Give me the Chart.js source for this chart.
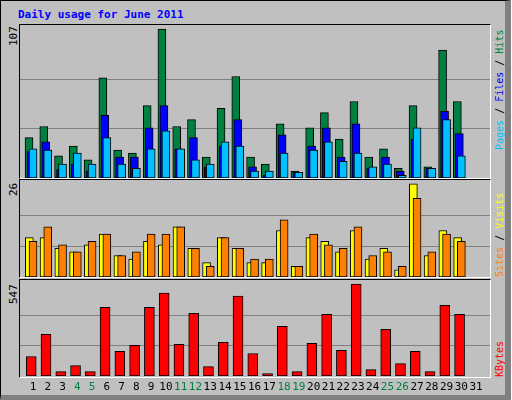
<!DOCTYPE html>
<html><head><meta charset="utf-8">
<script src="https://cdn.jsdelivr.net/npm/chart.js@4/dist/chart.umd.min.js"></script>
<style>
body{margin:0;width:512px;height:400px;overflow:hidden;background:#fff;font-family:"DejaVu Sans Mono",monospace}
#frame{position:absolute;left:0;top:0;width:504px;height:394px;background:#c0c0c0;border:1px solid #000;border-right:6px solid #808080;border-bottom:5px solid #808080}
.panel{position:absolute;left:19px;width:470px;border-top:1px solid #000;border-left:1px solid #000;border-right:1px solid #fff;border-bottom:1px solid #fff}
.lbl{position:absolute;font-size:11px;transform-origin:0 0;transform:rotate(-90deg);white-space:nowrap}
.rl{font-size:10px}
canvas{display:block}
</style></head><body>
<div id="frame"></div>
<div style="position:absolute;left:18px;top:8px;color:#0000ff;font-weight:bold;font-size:11px">Daily usage for June 2011</div>
<div class="panel" style="top:24px;height:153px"><canvas id="c1" width="470" height="153"></canvas></div>
<div class="panel" style="top:179px;height:97px"><canvas id="c2" width="470" height="97"></canvas></div>
<div class="panel" style="top:279px;height:97px"></div>
<canvas id="c3" width="470" height="120" style="position:absolute;left:20px;top:280px"></canvas>
<div class="lbl" style="left:7px;top:46px">107</div>
<div class="lbl" style="left:7px;top:196px">26</div>
<div class="lbl" style="left:7px;top:304px">547</div>
<div class="lbl rl" style="left:494px;top:150px"><span style="color:#00c0ff">Pages</span> / <span style="color:#0000ff">Files</span> / <span style="color:#008040">Hits</span></div>
<div class="lbl rl" style="left:494px;top:277px"><span style="color:#ff8000">Sites</span> / <span style="color:#ffff00">Visits</span></div>
<div class="lbl rl" style="left:494px;top:377px"><span style="color:#ff0000">KBytes</span></div>
<script>
const days=[1,2,3,4,5,6,7,8,9,10,11,12,13,14,15,16,17,18,19,20,21,22,23,24,25,26,27,28,29,30,31];
const weekend=[4,5,11,12,18,19,25,26];
const hits=[29,37,16,23,13,72,20,18,52,107,37,42,15,50,73,15,10,39,5,36,47,28,55,15,21,7,52,8,92,55,0];
const files=[19,26,6,10,5,45,15,15,36,52,21,29,8,23,42,8,2,31,4,23,36,15,39,7,15,5,28,7,48,32,0];
const pages=[21,20,10,18,10,29,10,7,21,34,21,13,10,26,23,5,5,18,4,20,26,12,18,8,10,2,36,7,42,16,0];
const visits=[11,11,8,7,9,12,6,5,10,9,14,8,4,11,8,4,4,13,3,11,10,7,13,5,8,2,26,6,13,11,0];
const sites=[10,14,9,7,10,12,6,7,12,12,14,8,3,11,8,5,5,16,3,12,9,8,14,6,7,3,22,7,12,10,0];
const kbytes=[116,248,26,62,26,409,146,182,409,493,188,373,56,200,475,134,14,295,26,194,367,152,547,38,277,74,146,26,421,367,0];
const maxes={hits:107,visits:26,kbytes:547};

function ds(vals,off,color,w,order){return{data:days.map((d,i)=>({x:d+off,y:vals[i]})),backgroundColor:color,borderColor:'#000',borderWidth:1,barThickness:w,borderSkipped:false,grouped:false,order}}
const grid={id:'grid',beforeDatasetsDraw(ch,a,o){const y=ch.scales.y,c=ch.ctx;c.save();c.strokeStyle='#808080';c.lineWidth=1;[o.m/3,2*o.m/3].forEach(v=>{const p=Math.round(y.getPixelForValue(v))+0.5;c.beginPath();c.moveTo(0,p);c.lineTo(ch.width,p);c.stroke()});c.restore()}};
const dayLbl={id:'dayLbl',afterDraw(ch){const x=ch.scales.x,c=ch.ctx;c.save();c.font='11px "DejaVu Sans Mono"';c.textAlign='center';c.textBaseline='top';days.forEach(d=>{c.fillStyle=weekend.includes(d)?'#008040':'#000';c.fillText(String(d),x.getPixelForValue(d),102)});c.restore()}};
function make(id,datasets,ymax,m,pb){return new Chart(document.getElementById(id),{type:'bar',data:{datasets},plugins:[grid].concat(pb?[dayLbl]:[]),options:{responsive:false,devicePixelRatio:1,animation:false,layout:{padding:{bottom:pb||0}},plugins:{legend:{display:false},tooltip:{enabled:false},grid:{m}},scales:{x:{type:'linear',offset:false,min:0.12,max:31.94,display:false},y:{min:0,max:ymax,display:false}}}})}
make('c1',[ds(hits,-0.27,'#008040',8,3),ds(files,-0.135,'#0000ff',8,2),ds(pages,0,'#00c0ff',8,1)],110,maxes.hits);
make('c2',[ds(visits,-0.25,'#ffff00',8,2),ds(sites,0,'#ff8000',8,1)],27.1,maxes.visits);
make('c3',[ds(kbytes,-0.12,'#ff0000',10,1)],571,maxes.kbytes,24);
</script></body></html>
